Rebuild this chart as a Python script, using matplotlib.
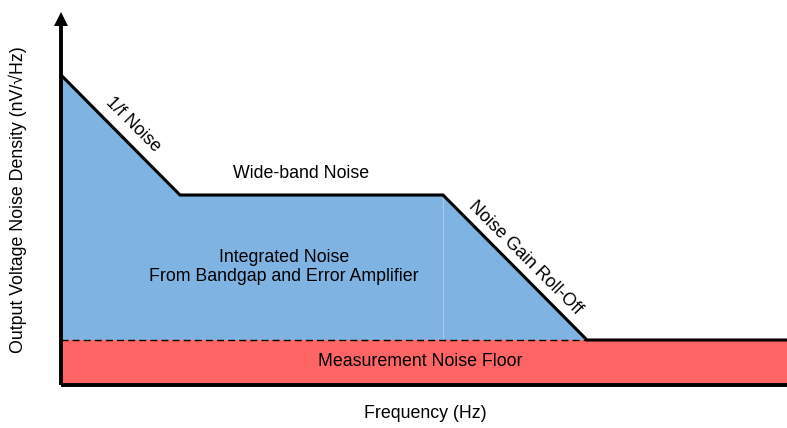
import matplotlib
matplotlib.use("Agg")
import matplotlib.pyplot as plt
from matplotlib.patches import Polygon, Rectangle

plt.rcParams['font.family'] = ['Liberation Sans', 'DejaVu Sans']

# Conceptual noise spectrum (arbitrary units, origin at axis corner)
freq = [0, 119, 382, 526, 726]
density = [310, 190, 190, 45, 45]
noise_floor = 45
knee_freq = 382

labels = {
    "one_f": "1/f Noise",
    "wide": "Wide-band Noise",
    "integrated": "Integrated Noise\nFrom Bandgap and Error Amplifier",
    "rolloff": "Noise Gain Roll-Off",
    "floor": "Measurement Noise Floor",
    "xlabel": "Frequency (Hz)",
    "ylabel": "Output Voltage Noise Density (nV/\u221aHz)",
}

BLUE = "#7FB3E1"
RED = "#FF6565"

fig = plt.figure(figsize=(7.87, 4.28), dpi=100)
ax = fig.add_axes([0, 0, 1, 1])
ax.set_xlim(-61, 726)
ax.set_ylim(-43, 385)
ax.axis("off")

# Red noise floor rectangle
ax.add_patch(Rectangle((0, 0), freq[-1], noise_floor, facecolor=RED, edgecolor="none", zorder=1))

# Blue integrated area (above floor up to roll-off end)
poly = [(freq[0], noise_floor)] + list(zip(freq[:4], density[:4]))
ax.add_patch(Polygon(poly, closed=True, facecolor=BLUE, edgecolor="none", zorder=2))

# faint vertical line at knee
ax.plot([knee_freq, knee_freq], [noise_floor, density[2]], color="#A9CBEA", lw=0.8, zorder=3)

# dashed line at floor under blue area
ax.plot([freq[0], freq[3]], [noise_floor, noise_floor], color="black", lw=1.0,
        ls=(0, (5, 3)), zorder=4)

# outline of noise curve
ax.plot(freq, density, color="black", lw=2.2, solid_joinstyle="miter", zorder=5)

# axes
ax.plot([freq[0], freq[-1]], [0, 0], color="black", lw=2.8, zorder=6, solid_capstyle="butt")
ax.plot([0, 0], [0, 362], color="black", lw=2.8, zorder=6, solid_capstyle="butt")
ax.add_patch(Polygon([(-7, 359), (7, 359), (0, 373)], closed=True, facecolor="black",
                     edgecolor="none", zorder=7))

fs = 12.8
ax.text(72, 260, labels["one_f"], rotation=-45, ha="center", va="center", fontsize=fs, zorder=8)
ax.text(240, 212, labels["wide"], ha="center", va="center", fontsize=fs, zorder=8)
ax.text(223, 118, labels["integrated"], ha="center", va="center", fontsize=fs,
        linespacing=1.2, zorder=8)
ax.text(464, 127, labels["rolloff"], rotation=-45, ha="center", va="center", fontsize=fs, zorder=8)
ax.text(359, 23, labels["floor"], ha="center", va="center", fontsize=fs, zorder=8)
ax.text(364, -28, labels["xlabel"], ha="center", va="center", fontsize=fs, zorder=8)
ax.text(-43, 185, labels["ylabel"], rotation=90, ha="center", va="center", fontsize=fs, zorder=8)

fig.savefig("out.png", dpi=100)
